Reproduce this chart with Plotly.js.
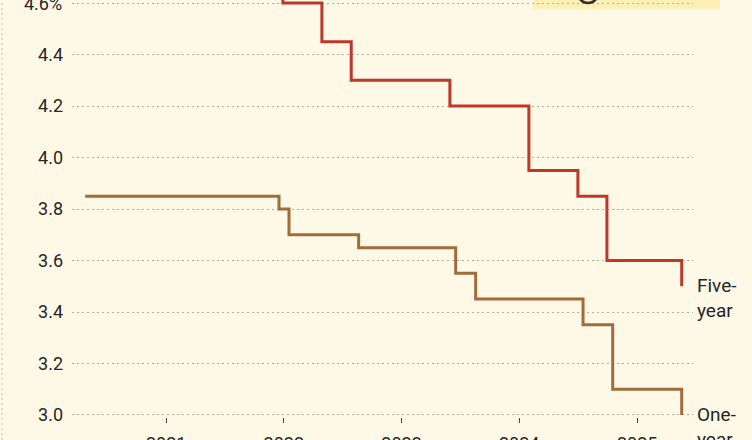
<!DOCTYPE html>
<html>
<head>
<meta charset="utf-8">
<script src="https://cdn.plot.ly/plotly-3.0.1.min.js"></script>
<style>
  html, body { margin: 0; padding: 0; background: #fdf9e6; }
  #chart { width: 752px; height: 440px; }
</style>
</head>
<body>
<div id="chart"></div>
<script>
// One-year loan prime rate, %
const oneYearDates = ['2020-04-25','2021-12-17','2022-01-17','2022-08-21','2023-06-18','2023-08-19','2024-07-17','2024-10-17','2025-05-19'];
const oneYearRates = [3.85, 3.8, 3.7, 3.65, 3.55, 3.45, 3.35, 3.1, 3.0];

// Five-year loan prime rate, %
const fiveYearDates = ['2020-04-25','2021-12-29','2022-04-29','2022-07-29','2023-05-31','2024-01-31','2024-07-01','2024-09-29','2025-05-19'];
const fiveYearRates = [4.65, 4.6, 4.45, 4.3, 4.2, 3.95, 3.85, 3.6, 3.5];

// Axis ticks
const yTickVals = [3.0, 3.2, 3.4, 3.6, 3.8, 4.0, 4.2, 4.4, 4.6];
const yTickText = ['3.0', '3.2', '3.4', '3.6', '3.8', '4.0', '4.2', '4.4', '4.6%'];
const xTickVals = ['2021-01-01','2022-01-01','2023-01-01','2024-01-01','2025-01-01'];
const xTickText = ['2021','2022','2023','2024','2025'];

// Series labels
const fiveLabel = 'Five-<br>year';
const oneLabel = 'One-<br>year';

const FONT = 'Roboto, "Liberation Sans", sans-serif';
const TEXT = '#262626';

const traces = [
  {
    x: oneYearDates, y: oneYearRates, type: 'scatter', mode: 'lines',
    line: { shape: 'hv', color: '#a06d3a', width: 3 },
    hoverinfo: 'skip'
  },
  {
    x: fiveYearDates, y: fiveYearRates, type: 'scatter', mode: 'lines',
    line: { shape: 'hv', color: '#bd3829', width: 3 },
    hoverinfo: 'skip'
  }
];

// the top tick label sits on the edge of the picture, so it is drawn as an annotation
const lastIdx = yTickVals.length - 1;
const yAxisText = yTickText.map((t, i) => (i === lastIdx ? '' : t));

const layout = {
  width: 752, height: 440,
  margin: { l: 72, r: 59, t: 0, b: 23, pad: 0 },
  paper_bgcolor: '#fdf9e6',
  plot_bgcolor: 'rgba(0,0,0,0)',
  showlegend: false,
  font: { family: FONT, size: 18, color: TEXT },
  xaxis: {
    type: 'date',
    range: ['2020-03-15', '2025-06-23'],
    tickmode: 'array', tickvals: xTickVals, ticktext: xTickText,
    ticks: 'outside', ticklen: 5, tickwidth: 1, tickcolor: '#444',
    showgrid: false, zeroline: false, showline: false,
    tickfont: { family: FONT, size: 18, color: TEXT },
    ticklabelstandoff: 5
  },
  yaxis: {
    range: [2.9922, 4.6117],
    tickmode: 'array', tickvals: yTickVals, ticktext: yAxisText,
    ticks: '', showline: false, zeroline: false,
    showgrid: true, gridcolor: '#b3b0a0', gridwidth: 1, griddash: '2px,3px',
    tickfont: { family: FONT, size: 18, color: TEXT },
    ticklabelstandoff: 8
  },
  shapes: [
    { type: 'rect', xref: 'paper', yref: 'paper', layer: 'below',
      x0: (533 - 72) / 621, x1: (720 - 72) / 621, y0: 1 - 9 / 417, y1: 1.05,
      fillcolor: '#fcf0b4', line: { width: 0 } },
    { type: 'circle', xref: 'paper', yref: 'paper', layer: 'above',
      x0: (578 - 72) / 621, x1: (598 - 72) / 621, y0: 1 - 3 / 417, y1: 1 + 17 / 417,
      line: { color: '#2e2e2e', width: 2.5 } },
    { type: 'line', xref: 'paper', yref: 'paper', layer: 'below',
      x0: (2 - 72) / 621, x1: (2 - 72) / 621, y0: -23 / 417, y1: 1,
      line: { color: '#c4c0ae', width: 1, dash: '2px,3px' } }
  ],
  annotations: [
    { x: 0, xref: 'paper', y: yTickVals[lastIdx], yref: 'y',
      text: yTickText[lastIdx], showarrow: false,
      xanchor: 'right', yanchor: 'middle', xshift: -8, yshift: 0,
      font: { family: FONT, size: 18, color: TEXT } },
    { x: fiveYearDates[fiveYearDates.length - 1], y: fiveYearRates[fiveYearRates.length - 1],
      xref: 'x', yref: 'y', text: fiveLabel, showarrow: false,
      xanchor: 'left', yanchor: 'top', align: 'left', xshift: 13, yshift: 14,
      font: { family: FONT, size: 19, color: TEXT } },
    { x: oneYearDates[oneYearDates.length - 1], y: oneYearRates[oneYearRates.length - 1],
      xref: 'x', yref: 'y', text: oneLabel, showarrow: false,
      xanchor: 'left', yanchor: 'top', align: 'left', xshift: 13, yshift: 14,
      font: { family: FONT, size: 19, color: TEXT } }
  ]
};

Plotly.newPlot('chart', traces, layout, { displayModeBar: false, staticPlot: true });
</script>
</body>
</html>
